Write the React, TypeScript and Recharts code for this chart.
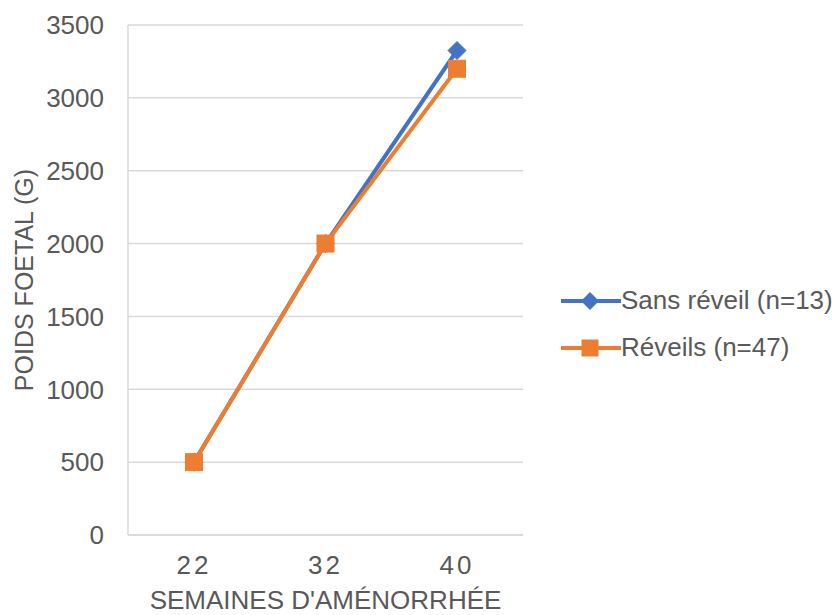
import React from 'react';
import { LineChart, Line, XAxis, YAxis, CartesianGrid } from 'recharts';

const weeks = ['22', '32', '40'];
const sansReveil = [500, 2000, 3325];
const reveils = [500, 2000, 3200];
const yTicks = [0, 500, 1000, 1500, 2000, 2500, 3000, 3500];

const seriesNames = ['Sans réveil (n=13)', 'Réveils (n=47)'];
const BLUE = '#4472C4';
const ORANGE = '#ED7D31';
const TEXT = '#595959';
const FONT = '"Liberation Sans", Arial, sans-serif';

const data = weeks.map((w, i) => ({ week: w, sans: sansReveil[i], reveils: reveils[i] }));

const Diamond = (props: any) => {
  const { cx, cy } = props;
  if (cx == null || cy == null) return null;
  const r = 9;
  return <polygon points={`${cx},${cy - r} ${cx + r},${cy} ${cx},${cy + r} ${cx - r},${cy}`} fill={BLUE} stroke={BLUE} strokeWidth={1} />;
};

const Square = (props: any) => {
  const { cx, cy } = props;
  if (cx == null || cy == null) return null;
  const h = 8.5;
  return <rect x={cx - h} y={cy - h} width={2 * h} height={2 * h} fill={ORANGE} stroke={ORANGE} strokeWidth={1} />;
};

const XTick = (props: any) => {
  const { x, y, payload } = props;
  return (
    <text x={x} y={y} dy="0.71em" textAnchor="middle" fill={TEXT} fontSize={26} fontFamily={FONT} letterSpacing={3}>
      {payload.value}
    </text>
  );
};

const YLabel = (props: any) => {
  const vb = props.viewBox || {};
  const x = (vb.x || 0) + 24;
  const y = (vb.y || 0) + (vb.height || 0) / 2;
  return (
    <text x={x} y={y} transform={`rotate(-90, ${x}, ${y})`} textAnchor="middle" dominantBaseline="central" fill={TEXT} fontSize={25} fontFamily={FONT}>
      POIDS FOETAL (G)
    </text>
  );
};

const XLabel = (props: any) => {
  const vb = props.viewBox || {};
  const x = (vb.x || 0) + (vb.width || 0) / 2;
  const y = (vb.y || 0) + 74;
  return (
    <text x={x} y={y} textAnchor="middle" fill={TEXT} fontSize={26} fontFamily={FONT}>
      SEMAINES D'AMÉNORRHÉE
    </text>
  );
};

const LegendBox = () => {
  const items = [
    { name: seriesNames[0], color: BLUE, shape: 'diamond' },
    { name: seriesNames[1], color: ORANGE, shape: 'square' },
  ];
  return (
    <div style={{ position: 'absolute', left: 561, top: 277, width: 279, fontFamily: FONT, fontSize: 26, color: TEXT }}>
      {items.map((it) => (
        <div key={it.name} style={{ display: 'flex', alignItems: 'center', height: 47 }}>
          <svg width={60} height={20} style={{ marginRight: 0, flex: 'none' }}>
            <line x1={0} y1={10} x2={60} y2={10} stroke={it.color} strokeWidth={4} />
            {it.shape === 'diamond' ? (
              <polygon points="29,1 38,10 29,19 20,10" fill={it.color} />
            ) : (
              <rect x={20.5} y={1.5} width={17} height={17} fill={it.color} />
            )}
          </svg>
          <span style={{ whiteSpace: 'nowrap' }}>{it.name}</span>
        </div>
      ))}
    </div>
  );
};

export default function App() {
  return (
    <div style={{ position: 'absolute', left: 0, top: 0, width: 840, height: 615, background: '#fff' }}>
      <LineChart width={840} height={615} data={data} margin={{ top: 25, right: 317, bottom: 0, left: 0 }}>
        <CartesianGrid vertical={false} stroke="#D9D9D9" strokeWidth={1.5} />
        <XAxis
          dataKey="week"
          type="category"
          height={80}
          padding={{ left: 66, right: 66 }}
          axisLine={{ stroke: '#D9D9D9', strokeWidth: 1.5 }}
          tickLine={false}
          tickSize={0}
          tickMargin={21}
          tick={<XTick />}
          label={<XLabel />}
        />
        <YAxis
          width={128}
          domain={[0, 3500]}
          ticks={yTicks}
          interval={0}
          axisLine={{ stroke: '#D9D9D9', strokeWidth: 1.5 }}
          tickLine={false}
          tickSize={0}
          tickMargin={24}
          tick={{ fill: TEXT, fontSize: 26, fontFamily: FONT }}
          label={<YLabel />}
        />
        <Line
          type="linear"
          dataKey="sans"
          name={seriesNames[0]}
          stroke={BLUE}
          strokeWidth={4}
          dot={<Diamond />}
          activeDot={false}
          isAnimationActive={false}
        />
        <Line
          type="linear"
          dataKey="reveils"
          name={seriesNames[1]}
          stroke={ORANGE}
          strokeWidth={4}
          dot={<Square />}
          activeDot={false}
          isAnimationActive={false}
        />
      </LineChart>
      <LegendBox />
    </div>
  );
}
